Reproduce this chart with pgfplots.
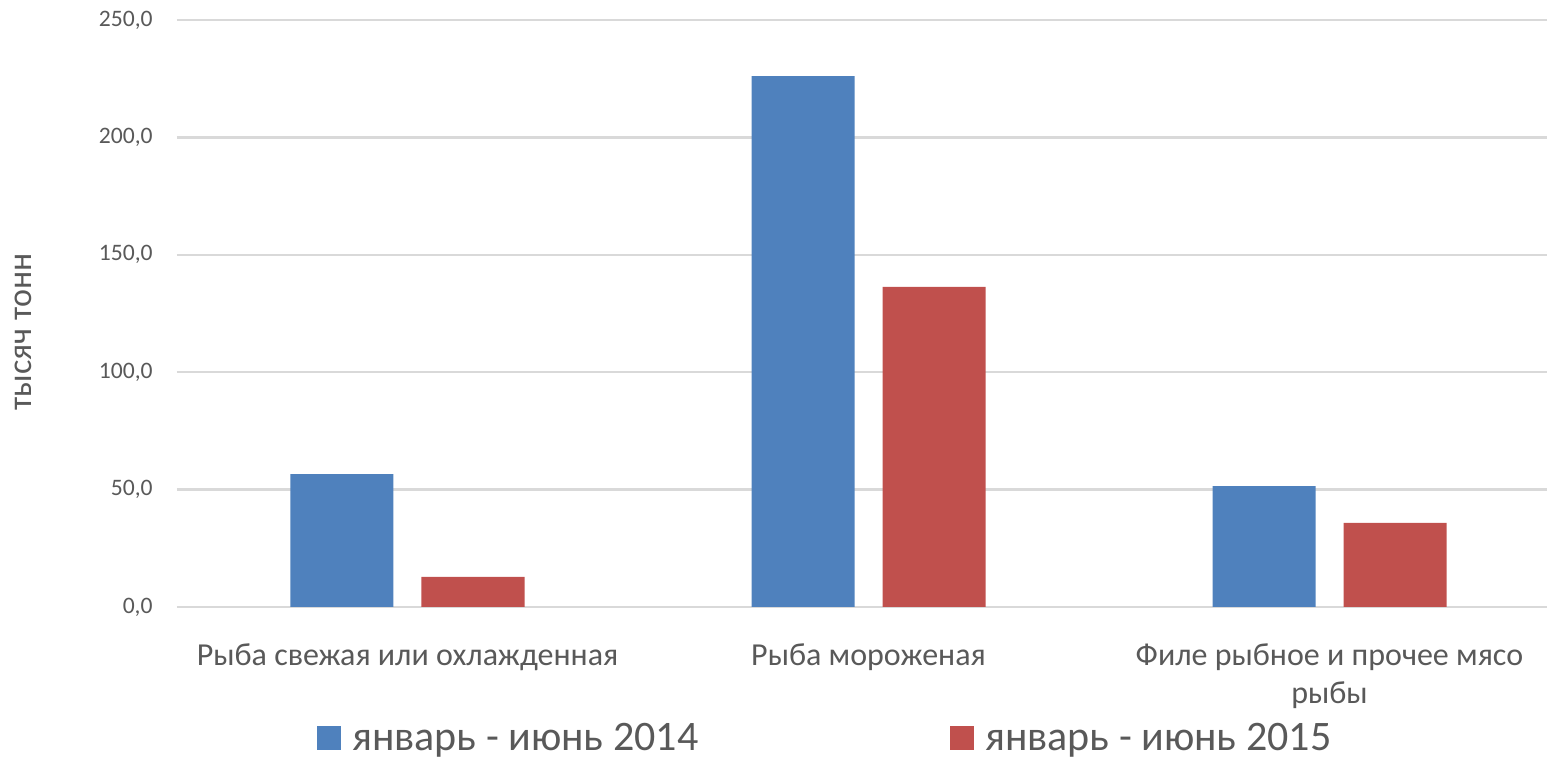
\documentclass[border=0pt]{standalone}
\usepackage{fontspec}
\setmainfont{Carlito}
\usepackage{pgfplots}
\pgfplotsset{compat=1.18}
\definecolor{cblue}{HTML}{4F81BD}
\definecolor{cred}{HTML}{C0504D}
\definecolor{cgrid}{HTML}{D9D9D9}
\definecolor{ctext}{HTML}{595959}
\begin{document}
\begin{tikzpicture}
\useasboundingbox (-88.5pt,-75.5pt) rectangle (685pt,303.5pt);
\begin{axis}[
  at={(0,0)}, anchor=south west,
  scale only axis,
  width=691.5pt, height=293.5pt,
  xmin=-0.5, xmax=2.5,
  ymin=0, ymax=250,
  ytick={0,50,100,150,200,250},
  xtick={0,1,2},
  xticklabels={\strut Рыба свежая или охлажденная, \strut Рыба мороженая, {\strut Филе рыбное и прочее мясо\\рыбы}},
  axis line style={draw=none},
  tick style={draw=none},
  ymajorgrids,
  grid style={cgrid, line width=1.2pt},
  ybar=14pt,
  bar width=51.5pt,
  /pgf/number format/.cd, fixed, fixed zerofill, precision=1, use comma, assume math mode=true,
  /pgfplots/.cd,
  yticklabel style={font=\fontsize{11.8}{14}\selectfont, text=ctext, inner sep=0pt, anchor=east, xshift=-12pt},
  xticklabel style={font=\fontsize{16}{19}\selectfont, text=ctext, align=center, inner sep=0pt, anchor=north, yshift=-11.5pt},
  every axis y label/.style={at={(axis description cs:-0.1114,0.4685)}, rotate=90, anchor=center, font=\fontsize{17}{20}\selectfont, text=ctext},
  ylabel={тысяч тонн},
  legend columns=2,
  legend style={draw=none, fill=none, at={(0.468,-0.223)}, anchor=center, inner sep=0pt,
    font=\fontsize{21}{24}\selectfont, text=ctext,
    nodes={inner sep=0pt},
    /tikz/column 1/.style={column sep=5.5pt},
    /tikz/column 2/.style={column sep=126pt},
    /tikz/column 3/.style={column sep=5.5pt}},
  legend image code/.code={\fill[#1] (0pt,-6pt) rectangle (12pt,6pt);},
]
\addplot[fill=cblue, draw=none] coordinates {(0,56.6) (1,226.1) (2,51.5)};
\addplot[fill=cred, draw=none] coordinates {(0,12.8) (1,136.3) (2,35.8)};
\legend{январь - июнь 2014, январь - июнь 2015}
\end{axis}
\end{tikzpicture}
\end{document}
